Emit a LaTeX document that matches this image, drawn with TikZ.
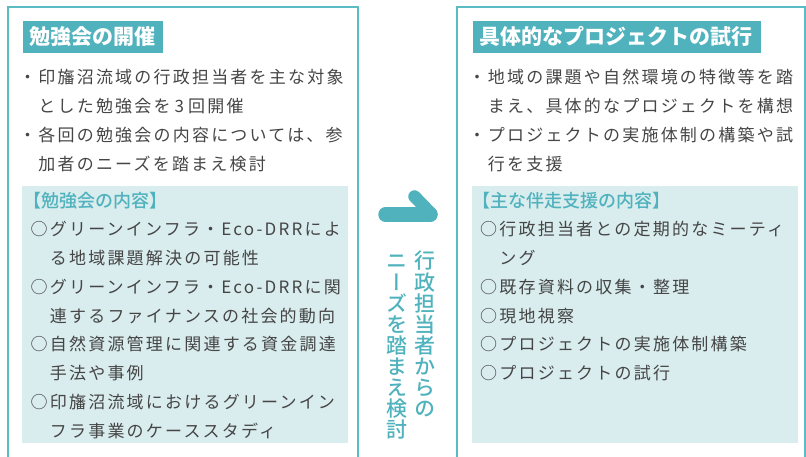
\documentclass[tikz,border=0pt]{standalone}
\usepackage{fontspec}
\setmainfont{Noto Sans CJK JP}
\newfontfamily\bodyfont[LetterSpace=13]{Noto Sans CJK JP}
\newfontfamily\medfont{Noto Sans CJK JP Medium}
\newfontfamily\vfont[RawFeature=+vert]{Noto Sans CJK JP Medium}
\definecolor{teal1}{HTML}{4FB2BD}
\definecolor{frame1}{HTML}{5BBCC6}
\definecolor{light1}{HTML}{D9ECEE}
\definecolor{text1}{HTML}{454545}
\begin{document}
\begin{tikzpicture}[x=1pt,y=-1pt,
  frameline/.style={draw=frame1,line width=1.7pt},
  titletext/.style={anchor=base west,inner sep=0pt,text=white,font=\bfseries\fontsize{21}{21}\selectfont},
  bodyline/.style={anchor=base west,inner sep=0pt,text=text1,font=\bodyfont\fontsize{17}{17}\selectfont},
  headline/.style={anchor=base west,inner sep=0pt,text=teal1,font=\medfont\fontsize{18}{18}\selectfont},
  vchar/.style={anchor=base,inner sep=0pt,text=teal1,font=\vfont\fontsize{21}{21}\selectfont},
  arrowstroke/.style={draw=teal1,line width=14.5pt,line cap=round,line join=round}]
\useasboundingbox (0,0) rectangle (806,457);
% outer frames
\draw[frameline] (8.3,460) -- (8.3,6.7) -- (358,6.7) -- (358,460);
\draw[frameline] (457.3,460) -- (457.3,6.7) -- (805.2,6.7) -- (805.2,460);
% light boxes
\fill[light1] (22,186) rectangle (348,443);
\fill[light1] (472,186) rectangle (798,443);
% title boxes
\fill[teal1] (23,21) rectangle (163,53);
\fill[teal1] (473,21) rectangle (761,53);
\node[titletext] (tl) at (29.5,45) {勉強会の開催};
\node[titletext] (tr) at (479.5,45) {具体的なプロジェクトの試行};
% left bullets
\node[bodyline] (l1) at (19,84) {・印旛沼流域の行政担当者を主な対象};
\node[bodyline] (l2) at (38.2,112.8) {とした勉強会を\kern4pt 3\kern4pt 回開催};
\node[bodyline] (l3) at (19,141.8) {・各回の勉強会の内容については、参};
\node[bodyline] (l4) at (38.2,170.5) {加者のニーズを踏まえ検討};
% right bullets
\node[bodyline] (r1) at (468.5,84) {・地域の課題や自然環境の特徴等を踏};
\node[bodyline] (r2) at (487.7,112.8) {まえ、具体的なプロジェクトを構想};
\node[bodyline] (r3) at (468.5,141.8) {・プロジェクトの実施体制の構築や試};
\node[bodyline] (r4) at (487.7,170.5) {行を支援};
% headings
\node[headline] (hl) at (23,207.8) {【勉強会の内容】};
\node[headline] (hr) at (472.7,207.8) {【主な伴走支援の内容】};
% left items
\node[bodyline] (li1) at (30.5,235.5) {○グリーンインフラ・Eco-DRRによ};
\node[bodyline] (li2) at (49.7,264.4) {る地域課題解決の可能性};
\node[bodyline] (li3) at (30.5,293.2) {○グリーンインフラ・Eco-DRRに関};
\node[bodyline] (li4) at (49.7,322.1) {連するファイナンスの社会的動向};
\node[bodyline] (li5) at (30.5,350.9) {○自然資源管理に関連する資金調達};
\node[bodyline] (li6) at (49.7,379.8) {手法や事例};
\node[bodyline] (li7) at (30.5,408.6) {○印旛沼流域におけるグリーンイン};
\node[bodyline] (li8) at (49.7,437.5) {フラ事業のケーススタディ};
% right items
\node[bodyline] (ri1) at (480,235.5) {○行政担当者との定期的なミーティ};
\node[bodyline] (ri2) at (499.2,264.4) {ング};
\node[bodyline] (ri3) at (480,293.2) {○既存資料の収集・整理};
\node[bodyline] (ri4) at (480,322.1) {○現地視察};
\node[bodyline] (ri5) at (480,350.9) {○プロジェクトの実施体制構築};
\node[bodyline] (ri6) at (480,379.8) {○プロジェクトの試行};
% arrow
\draw[arrowstroke] (385.5,214.5) -- (430.5,214.5);
\draw[arrowstroke,line width=12.5pt] (431,213.5) -- (414.5,196.5);
% vertical text
\foreach \c [count=\i from 0] in {行,政,担,当,者,か,ら,の}
  \node[vchar] (va\i) at (425,269+21*\i) {\c};
\foreach \c [count=\i from 0] in {ニ,ー,ズ,を,踏,ま,え,検,討}
  \node[vchar] (vb\i) at (396.7,269+21*\i) {\c};
\end{tikzpicture}
\end{document}
